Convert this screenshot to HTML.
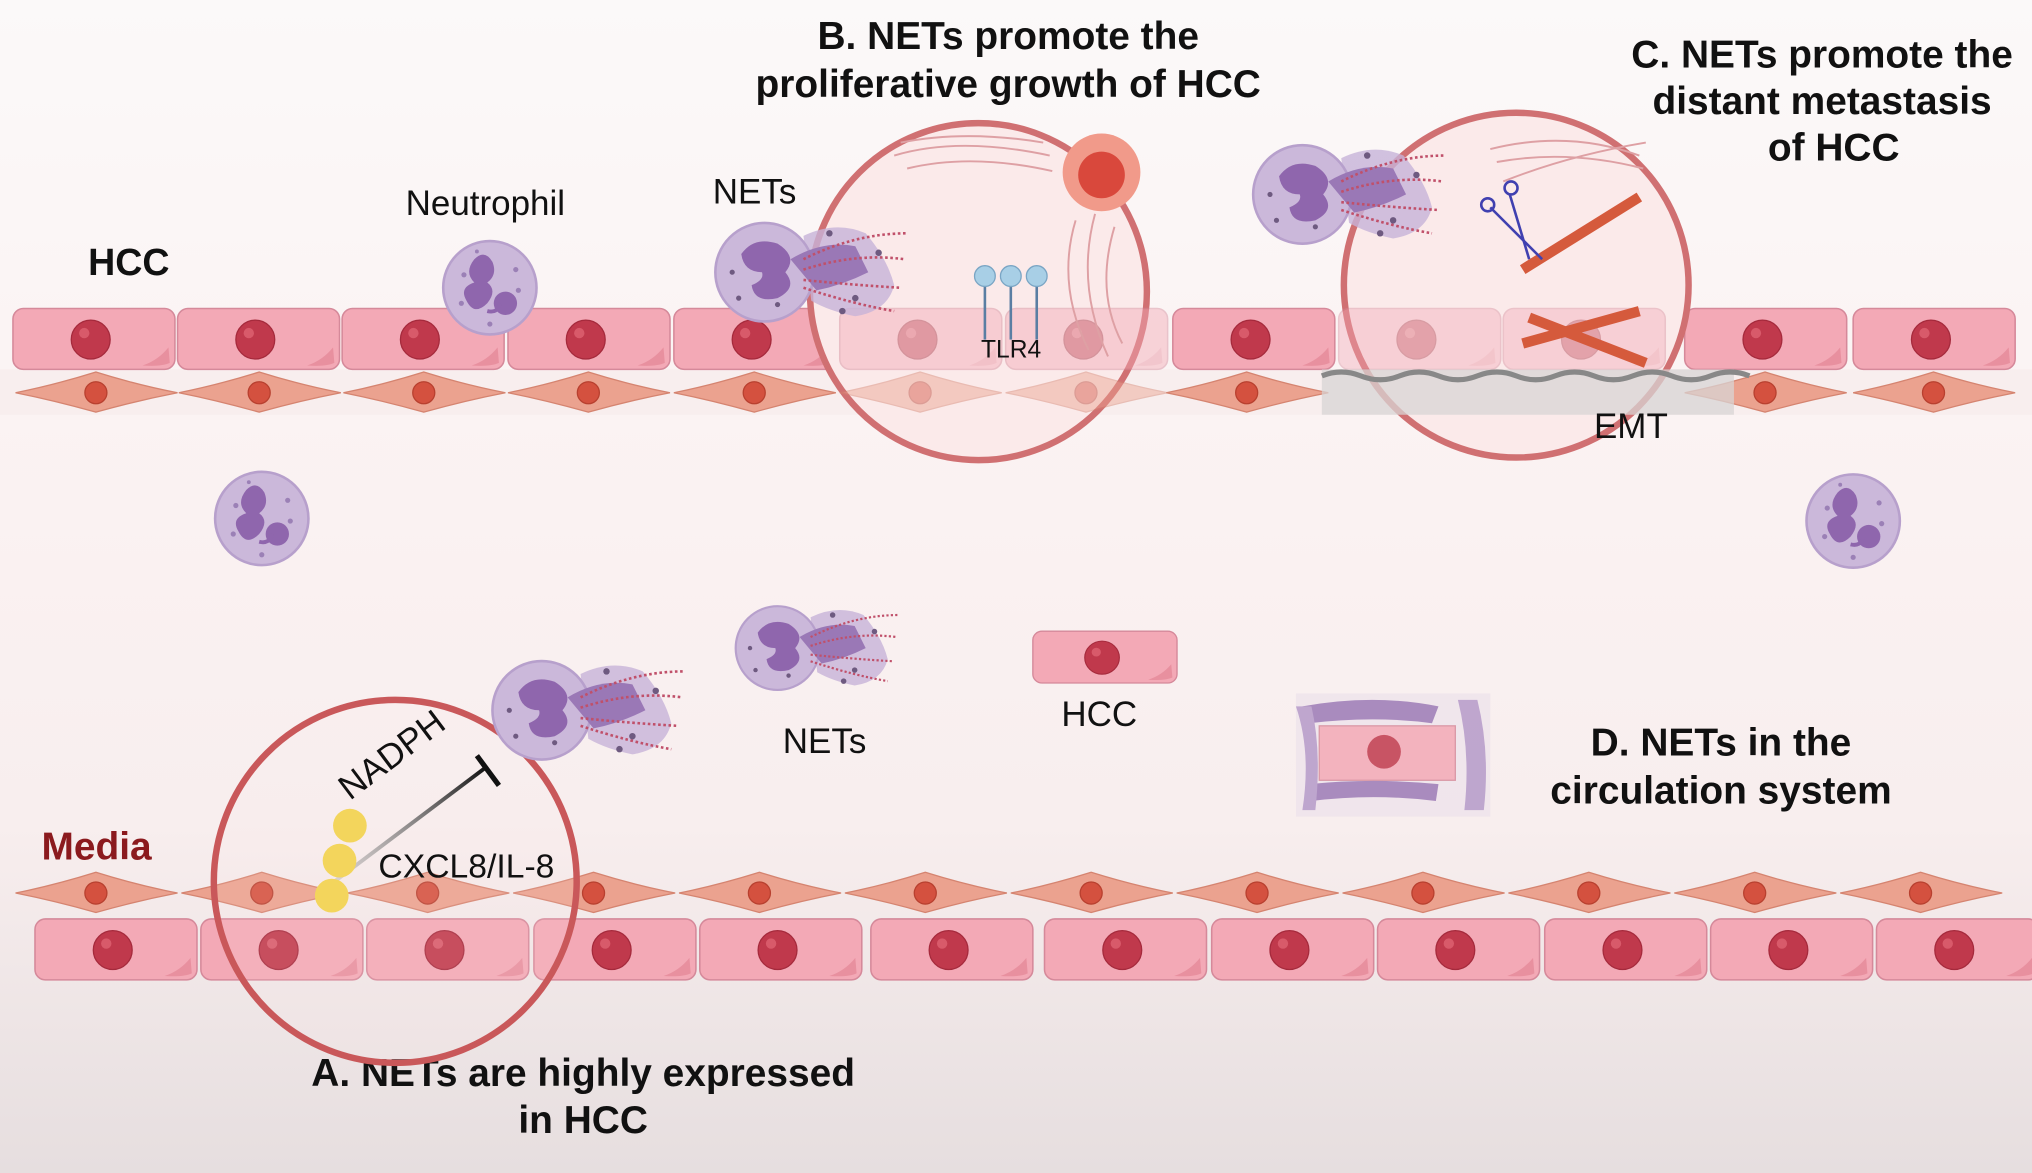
<!DOCTYPE html>
<html><head><meta charset="utf-8"><style>
html,body{margin:0;padding:0;background:#fff}
svg{display:block}
text{font-family:"Liberation Sans",Arial,sans-serif}
.t{font-weight:bold;font-size:30px;fill:#111;text-anchor:middle}
.l{font-size:27px;fill:#111}
</style></head><body>
<svg width="2032" height="1173" viewBox="0 0 1568 905" preserveAspectRatio="none" xmlns="http://www.w3.org/2000/svg">
<defs>
<linearGradient id="bg" x1="0" y1="0" x2="0" y2="1">
<stop offset="0" stop-color="#fbf9f9"/><stop offset="0.35" stop-color="#fbf3f3"/><stop offset="0.7" stop-color="#f8eeee"/><stop offset="1" stop-color="#e6dedf"/></linearGradient>
<linearGradient id="ln" x1="0" y1="1" x2="1" y2="0"><stop offset="0" stop-color="#bbb" stop-opacity="0.3"/><stop offset="1" stop-color="#111"/></linearGradient>
<g id="ec"><rect x="0" y="0" width="125" height="47" rx="8" fill="#f3a9b6" stroke="#d5899a" stroke-width="1.2"/><path d="M100 44 Q112 40 120 30 L121 42 Q115 45 100 44Z" fill="#e8909f"/><circle cx="60" cy="24" r="15" fill="#c0394c" stroke="#a52a3c"/><circle cx="55" cy="19" r="4" fill="#d85a6a"/></g>
<g id="sm"><path d="M0 16 Q30 10 62 0 Q94 10 125 16 Q94 22 62 31 Q30 22 0 16Z" fill="#eba28f" stroke="#d58470" stroke-width="1"/><circle cx="62" cy="16" r="8.5" fill="#d4513f" stroke="#b8402f"/></g>
<g id="nu"><circle r="36" fill="#cbb8da" stroke="#b7a0cc" stroke-width="2"/><path d="M-12 -22 q8 -8 14 2 q4 10 -4 16 q8 6 0 16 q-10 10 -16 -2 q-6 -10 6 -14 q-8 -8 0 -18Z" fill="#8f66ad"/><circle cx="12" cy="12" r="9" fill="#8f66ad"/><path d="M-2 18 Q6 20 8 12" stroke="#8f66ad" stroke-width="3" fill="none"/><g fill="#9b80b6"><circle cx="-20" cy="-10" r="2"/><circle cx="20" cy="-14" r="2"/><circle cx="-22" cy="12" r="2"/><circle cx="22" cy="2" r="2"/><circle cx="0" cy="28" r="2"/><circle cx="-10" cy="-28" r="1.5"/></g></g>
<g id="net"><path d="M30 -28 Q55 -40 78 -30 Q95 -10 100 10 Q95 30 70 34 Q50 30 36 22Z" fill="#c7b3d8" opacity="0.8"/><circle r="38" fill="#cbb8da" stroke="#b7a0cc" stroke-width="2"/><path d="M-18 -14 q10 -14 28 -8 q16 10 6 22 q10 12 -6 20 q-18 4 -20 -10 q10 -4 8 -10 q-14 0 -16 -14Z" fill="#8f66ad"/><path d="M20 -10 Q45 -25 70 -20 L80 0 Q60 10 40 14Z" fill="#9a78b6"/><g stroke="#c0506a" stroke-width="2" stroke-dasharray="2 2" fill="none"><path d="M30 -10 Q70 -30 110 -30"/><path d="M30 -2 Q70 -15 108 -10"/><path d="M30 6 Q70 10 105 12"/><path d="M30 12 Q70 25 100 30"/></g><g fill="#6e5a80"><circle cx="50" cy="-30" r="2.5"/><circle cx="70" cy="20" r="2.5"/><circle cx="88" cy="-15" r="2.5"/><circle cx="60" cy="30" r="2.5"/><circle cx="-20" cy="20" r="2"/><circle cx="-25" cy="0" r="2"/><circle cx="10" cy="25" r="2"/></g></g>
</defs>
<rect width="1568" height="905" fill="url(#bg)"/>
<rect x="0" y="285" width="1568" height="35" fill="#f8eeee"/>
<g>
<use href="#ec" x="10" y="238"/><use href="#ec" x="137" y="238"/><use href="#ec" x="264" y="238"/><use href="#ec" x="392" y="238"/><use href="#ec" x="520" y="238"/><use href="#ec" x="905" y="238"/><use href="#ec" x="1300" y="238"/><use href="#ec" x="1430" y="238"/>
</g>
<g>
<use href="#sm" x="12" y="287"/><use href="#sm" x="138" y="287"/><use href="#sm" x="265" y="287"/><use href="#sm" x="392" y="287"/><use href="#sm" x="520" y="287"/><use href="#sm" x="900" y="287"/><use href="#sm" x="1300" y="287"/><use href="#sm" x="1430" y="287"/>
</g>
<circle cx="755" cy="225" r="130" fill="#fbeaea" stroke="#d07072" stroke-width="5"/>
<g opacity="0.45"><use href="#ec" x="648" y="238"/><use href="#ec" x="776" y="238"/><use href="#sm" x="648" y="287"/><use href="#sm" x="776" y="287"/></g>
<g stroke="#dea0a4" stroke-width="1.5" fill="none"><path d="M690 120 Q740 105 810 120"/><path d="M700 130 Q750 118 812 132"/><path d="M695 110 Q745 100 805 110"/><path d="M830 170 Q815 220 840 270"/><path d="M845 165 Q830 220 855 275"/><path d="M860 175 Q845 225 866 265"/></g>
<circle cx="850" cy="133" r="30" fill="#f19a8a"/><circle cx="850" cy="135" r="18" fill="#d9483c"/>
<g stroke="#5a7ea3" stroke-width="2"><line x1="760" y1="220" x2="760" y2="262"/><line x1="780" y1="220" x2="780" y2="262"/><line x1="800" y1="220" x2="800" y2="262"/></g>
<g fill="#a8cfe6" stroke="#7aa5c4"><circle cx="760" cy="213" r="8"/><circle cx="780" cy="213" r="8"/><circle cx="800" cy="213" r="8"/></g>
<text x="757" y="276" class="l" style="font-size:19px">TLR4</text>
<use href="#net" x="590" y="210"/>
<circle cx="1170" cy="220" r="133" fill="#fbeaea" stroke="#d07072" stroke-width="5"/>
<g opacity="0.4"><use href="#ec" x="1033" y="238"/><use href="#ec" x="1160" y="238"/></g>
<rect x="1020" y="285" width="318" height="35" fill="#d8d4d4" opacity="0.75"/>
<path d="M1020 290 q15 -6 30 0 t30 0 t30 0 t30 0 t30 0 t30 0 t30 0 t30 0 t30 0 t30 0 t30 0" stroke="#888" stroke-width="4" fill="none"/>
<g stroke="#dea0a4" stroke-width="1.5" fill="none"><path d="M1150 115 Q1210 100 1265 120"/><path d="M1155 125 Q1210 115 1268 130"/><path d="M1160 140 Q1210 120 1270 110"/></g>
<g stroke-width="8"><line x1="1175" y1="208" x2="1265" y2="152" stroke="#d55a3c"/><line x1="1175" y1="265" x2="1265" y2="240" stroke="#d55a3c"/><line x1="1180" y1="245" x2="1270" y2="280" stroke="#d55a3c"/></g>
<g stroke="#4040b0" stroke-width="2" fill="none"><line x1="1150" y1="160" x2="1190" y2="200"/><line x1="1165" y1="150" x2="1180" y2="200"/><circle cx="1148" cy="158" r="5"/><circle cx="1166" cy="145" r="5"/></g>
<use href="#net" x="1005" y="150"/>
<text x="1230" y="338" class="l">EMT</text>
<text x="778" y="38" class="t">B. NETs promote the</text>
<text x="778" y="75" class="t">proliferative growth of HCC</text>
<text x="1406" y="52" class="t">C. NETs promote the</text>
<text x="1406" y="88" class="t">distant metastasis</text>
<text x="1415" y="124" class="t">of HCC</text>
<text x="450" y="838" class="t">A. NETs are highly expressed</text>
<text x="450" y="874" class="t">in HCC</text>
<text x="1328" y="583" class="t">D. NETs in the</text>
<text x="1328" y="620" class="t">circulation system</text>
<text x="68" y="212" style="font-weight:bold;font-size:29px;fill:#111">HCC</text>
<text x="32" y="663" style="font-weight:bold;font-size:30px;fill:#8b1a1e">Media</text>
<text x="313" y="166" class="l">Neutrophil</text>
<text x="550" y="157" class="l">NETs</text>
<text x="604" y="581" class="l">NETs</text>
<text x="819" y="560" class="l">HCC</text>
<use href="#nu" x="378" y="222"/>
<use href="#nu" x="202" y="400"/>
<use href="#nu" x="1430" y="402"/>
<use href="#net" x="600" y="500" transform="translate(600 500) scale(0.85) translate(-600 -500)"/>
<g transform="translate(797 487) scale(0.89 0.85)"><use href="#ec"/></g>
<g opacity="0.85">
<rect x="1000" y="535" width="150" height="95" fill="#e8dcea" opacity="0.6"/>
<rect x="1018" y="560" width="105" height="42" fill="#f3a9b6" stroke="#d5899a"/><circle cx="1068" cy="580" r="13" fill="#c0394c"/>
<path d="M1005 545 Q1060 535 1110 545 L1105 558 Q1060 552 1010 558Z" fill="#9c7ab6"/>
<path d="M1010 605 Q1060 600 1110 605 L1108 618 Q1060 612 1012 618Z" fill="#9c7ab6"/>
<path d="M1125 540 Q1135 580 1130 625 L1145 625 Q1150 580 1140 540Z" fill="#b59ac9"/>
<path d="M1000 545 Q1012 580 1005 625 L1015 625 Q1020 580 1012 545Z" fill="#b59ac9"/>
</g>
<g>
<use href="#sm" x="12" y="673"/><use href="#sm" x="140" y="673"/><use href="#sm" x="268" y="673"/><use href="#sm" x="396" y="673"/><use href="#sm" x="524" y="673"/><use href="#sm" x="652" y="673"/><use href="#sm" x="780" y="673"/><use href="#sm" x="908" y="673"/><use href="#sm" x="1036" y="673"/><use href="#sm" x="1164" y="673"/><use href="#sm" x="1292" y="673"/><use href="#sm" x="1420" y="673"/>
</g>
<g>
<use href="#ec" x="27" y="709"/><use href="#ec" x="155" y="709"/><use href="#ec" x="283" y="709"/><use href="#ec" x="412" y="709"/><use href="#ec" x="540" y="709"/><use href="#ec" x="672" y="709"/><use href="#ec" x="806" y="709"/><use href="#ec" x="935" y="709"/><use href="#ec" x="1063" y="709"/><use href="#ec" x="1192" y="709"/><use href="#ec" x="1320" y="709"/><use href="#ec" x="1448" y="709"/>
</g>
<circle cx="305" cy="680" r="140" fill="#fbeaea" fill-opacity="0.12" stroke="#c9585a" stroke-width="5"/>
<line x1="245" y1="690" x2="375" y2="592" stroke="url(#ln)" stroke-width="3"/>
<line x1="368" y1="583" x2="385" y2="606" stroke="#111" stroke-width="4"/>
<g fill="#f3d55c"><circle cx="270" cy="637" r="13"/><circle cx="262" cy="664" r="13"/><circle cx="256" cy="691" r="13"/></g>
<text x="0" y="0" class="l" transform="translate(270 618) rotate(-37)">NADPH</text>
<text x="292" y="677" class="l" style="font-size:26px">CXCL8/IL-8</text>
<use href="#net" x="418" y="548"/>
</svg>
</body></html>
